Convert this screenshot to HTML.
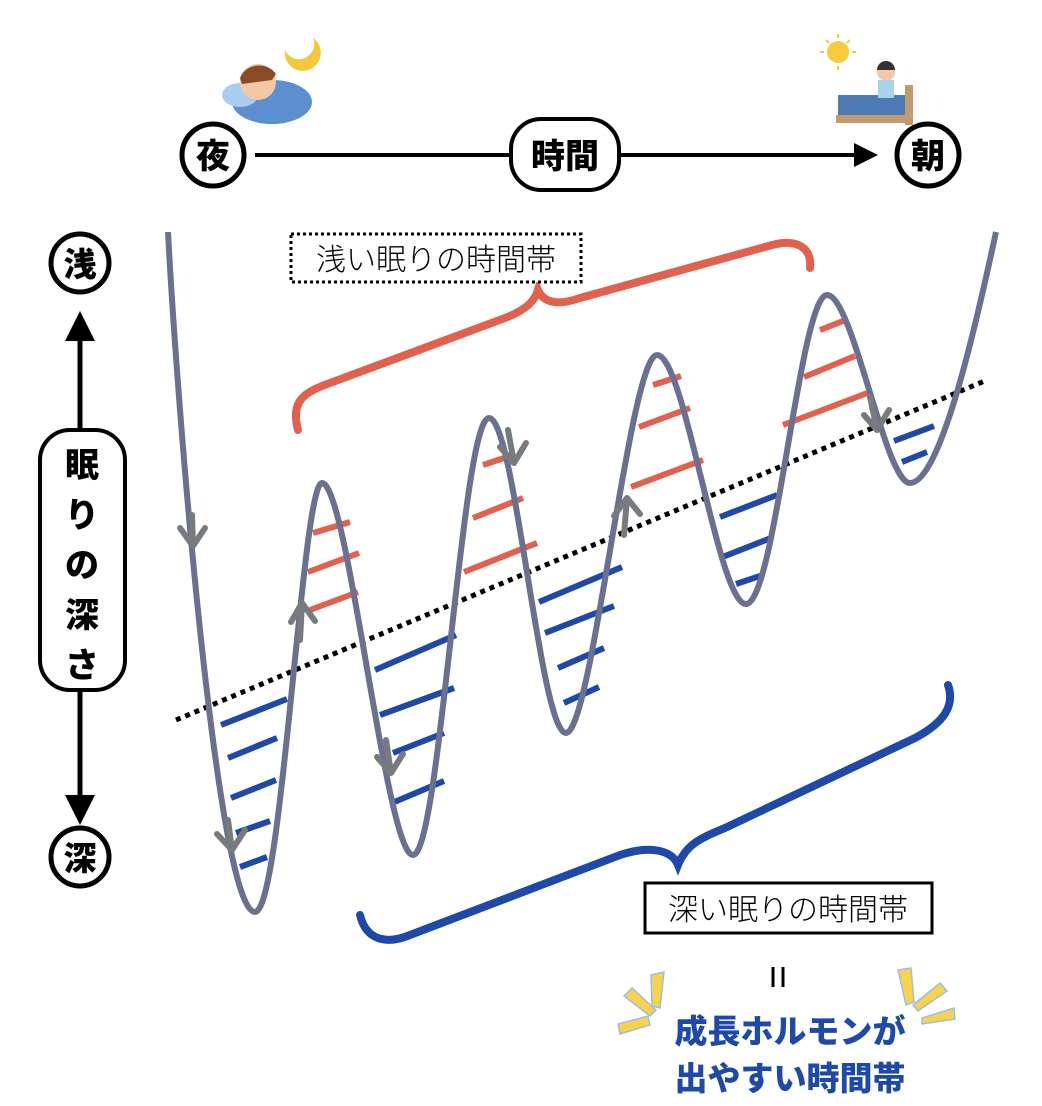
<!DOCTYPE html>
<html><head><meta charset="utf-8"><style>
html,body{margin:0;padding:0;background:#fff}
body{width:1042px;height:1106px;overflow:hidden}
svg{display:block}
.b{font-family:"Liberation Sans","Noto Sans CJK JP",sans-serif;font-weight:900}
.l{font-family:"Liberation Sans","Noto Sans CJK JP",sans-serif;font-weight:300}
</style></head><body>
<svg width="1042" height="1106" viewBox="0 0 1042 1106" xmlns="http://www.w3.org/2000/svg">
<defs>
<marker id="ah" markerWidth="6" markerHeight="6" refX="3" refY="3" orient="auto" markerUnits="strokeWidth">
<path d="M0,0 L6,3 L0,6 z" fill="#000"/></marker>
</defs>
<!-- illustrations (simplified) -->
<path d="M285,50 a18,18 0 1 0 28,-12 a14,14 0 1 1 -28,12z" fill="#f6c63b"/>
<ellipse cx="272" cy="102" rx="40" ry="22" fill="#5b8fcf"/>
<ellipse cx="240" cy="95" rx="18" ry="12" fill="#a9cdef"/>
<circle cx="258" cy="82" r="18" fill="#f3c9a5"/>
<path d="M240,78 a20,18 0 0 1 36,-4 l-4,6 -30,4z" fill="#8a4b24"/>
<circle cx="838" cy="52" r="11" fill="#f8c93a"/>
<g stroke="#f8c93a" stroke-width="2"><line x1="838" y1="34" x2="838" y2="38"/><line x1="820" y1="52" x2="824" y2="52"/><line x1="852" y1="52" x2="856" y2="52"/><line x1="838" y1="66" x2="838" y2="70"/><line x1="826" y1="40" x2="829" y2="43"/><line x1="850" y1="40" x2="847" y2="43"/></g>
<rect x="838" y="95" width="70" height="25" fill="#4c7bb5"/>
<rect x="836" y="115" width="76" height="8" fill="#c49a6c"/>
<rect x="905" y="85" width="8" height="40" fill="#c49a6c"/>
<circle cx="886" cy="72" r="9" fill="#f3c9a5"/>
<path d="M877,70 a9,9 0 0 1 18,0z" fill="#333"/>
<rect x="878" y="80" width="16" height="18" fill="#a7d3e8"/>

<!-- time axis -->
<line x1="255" y1="155" x2="866" y2="155" stroke="#000" stroke-width="4" marker-end="url(#ah)"/>
<circle cx="213" cy="155" r="31" fill="#fff" stroke="#000" stroke-width="5"/>
<text x="213" y="168" font-size="34" text-anchor="middle" class="b">夜</text>
<circle cx="928" cy="155" r="31" fill="#fff" stroke="#000" stroke-width="5"/>
<text x="928" y="168" font-size="34" text-anchor="middle" class="b">朝</text>
<rect x="511" y="119" width="108" height="71" rx="30" fill="#fff" stroke="#000" stroke-width="4"/>
<text x="565" y="168" font-size="34" text-anchor="middle" class="b">時間</text>

<!-- depth axis -->
<line x1="80" y1="805" x2="80" y2="326" stroke="#000" stroke-width="5" marker-end="url(#ah)"/>
<line x1="80" y1="330" x2="80" y2="810" stroke="#000" stroke-width="5" marker-end="url(#ah)"/>
<circle cx="80" cy="263" r="29" fill="#fff" stroke="#000" stroke-width="5"/>
<text x="80" y="276" font-size="33" text-anchor="middle" class="b">浅</text>
<circle cx="80" cy="857" r="29" fill="#fff" stroke="#000" stroke-width="5"/>
<text x="80" y="870" font-size="33" text-anchor="middle" class="b">深</text>
<rect x="40" y="430" width="85" height="260" rx="30" fill="#fff" stroke="#000" stroke-width="4"/>
<g font-size="34" text-anchor="middle" class="b"><text x="82" y="477">眠</text><text x="82" y="527">り</text><text x="82" y="577">の</text><text x="82" y="627">深</text><text x="82" y="677">さ</text></g>

<!-- braces -->
<path d="M298,430 C290,400 305,392 330,383 L505,318 C528,309 535,300 538,290 C544,304 560,305 580,298 L772,245 C800,238 812,250 810,268" fill="none" stroke="#e2604e" stroke-width="8" stroke-linecap="round"/>
<path d="M360,915 C366,940 386,945 410,935 L620,855 C650,845 672,850 678,865 C686,845 700,838 725,828 L915,738 C945,722 955,705 948,685" fill="none" stroke="#1f49a8" stroke-width="8" stroke-linecap="round"/>

<!-- labels -->
<rect x="291" y="234" width="290" height="48" fill="#fff" stroke="#000" stroke-width="3" stroke-dasharray="3,3"/>
<text x="436" y="270" font-size="30" text-anchor="middle" class="l">浅い眠りの時間帯</text>
<rect x="645" y="883" width="287" height="50" fill="#fff" stroke="#000" stroke-width="3"/>
<text x="788" y="920" font-size="30" text-anchor="middle" class="l">深い眠りの時間帯</text>
<line x1="773" y1="967" x2="773" y2="987" stroke="#000" stroke-width="3"/>
<line x1="783" y1="967" x2="783" y2="987" stroke="#000" stroke-width="3"/>
<text x="790" y="1043" font-size="33" text-anchor="middle" class="b" fill="#1f49a8">成長ホルモンが</text>
<text x="790" y="1090" font-size="33" text-anchor="middle" class="b" fill="#1f49a8">出やすい時間帯</text>
<g fill="#f6d348" stroke="#9dbbf0" stroke-width="1.5">
<polygon points="651,975 664,972 660,1008 652,1006"/>
<polygon points="624,996 632,988 656,1010 650,1016"/>
<polygon points="618,1024 648,1016 650,1025 620,1034"/>
<polygon points="898,970 911,968 914,1002 906,1005"/>
<polygon points="913,1005 940,983 947,991 918,1011"/>
<polygon points="922,1018 954,1008 955,1019 922,1024"/>
</g>

<!-- dotted trend -->
<line x1="176" y1="720" x2="987" y2="380" stroke="#000" stroke-width="5" stroke-dasharray="5,5"/>

<!-- dashes -->
<g stroke="#1f49a8" stroke-width="6">
<line x1="221" y1="725" x2="287" y2="699"/><line x1="228" y1="758" x2="277" y2="738"/><line x1="231" y1="798" x2="276" y2="780"/><line x1="236" y1="833" x2="270" y2="821"/><line x1="240" y1="867" x2="267" y2="857"/>
<line x1="375" y1="670" x2="456" y2="635"/><line x1="380" y1="715" x2="454" y2="688"/><line x1="393" y1="753" x2="444" y2="733"/><line x1="392" y1="803" x2="444" y2="781"/>
<line x1="539" y1="602" x2="622" y2="567"/><line x1="545" y1="633" x2="614" y2="606"/><line x1="558" y1="668" x2="604" y2="648"/><line x1="564" y1="703" x2="599" y2="687"/>
<line x1="720" y1="517" x2="777" y2="495"/><line x1="720" y1="558" x2="771" y2="538"/><line x1="736" y1="584" x2="763" y2="575"/>
<line x1="894" y1="441" x2="934" y2="426"/><line x1="902" y1="462" x2="927" y2="452"/>
</g>
<g stroke="#e2604e" stroke-width="6">
<line x1="313" y1="533" x2="350" y2="522"/><line x1="308" y1="572" x2="359" y2="553"/><line x1="310" y1="610" x2="358" y2="592"/>
<line x1="483" y1="465" x2="507" y2="457"/><line x1="473" y1="518" x2="523" y2="498"/><line x1="464" y1="572" x2="537" y2="543"/>
<line x1="653" y1="385" x2="681" y2="376"/><line x1="639" y1="427" x2="690" y2="408"/><line x1="631" y1="487" x2="703" y2="460"/>
<line x1="820" y1="330" x2="843" y2="321"/><line x1="804" y1="377" x2="855" y2="356"/><line x1="783" y1="425" x2="870" y2="392"/>
</g>

<!-- main curve -->
<path d="M168,232 C178,420 218,912 255,912 C282,912 302,483 322,483 C348,483 386,855 413,855 C440,855 462,418 489,418 C515,418 540,733 566,733 C592,733 630,355 657,355 C685,355 718,604 746,604 C775,604 800,295 827,295 C853,295 885,483 910,483 C940,483 975,330 996,232" fill="none" stroke="#6a7190" stroke-width="6"/>

<!-- chevrons -->
<g fill="none" stroke="#777b80" stroke-width="6" stroke-linecap="round" stroke-linejoin="round">
<path d="M180,528 L193,546 L205,528 M192,515 L193,546"/>
<path d="M291,622 L302,603 L315,621 M302,603 L300,640"/>
<path d="M217,834 L232,850 L245,830 M228,820 L232,850"/>
<path d="M377,757 L391,773 L403,754 M386,740 L391,773"/>
<path d="M500,447 L514,463 L526,443 M508,430 L514,463"/>
<path d="M614,516 L627,498 L640,514 M627,498 L624,535"/>
<path d="M864,415 L877,430 L889,410 M870,397 L877,430"/>
</g>
</svg>
</body></html>
